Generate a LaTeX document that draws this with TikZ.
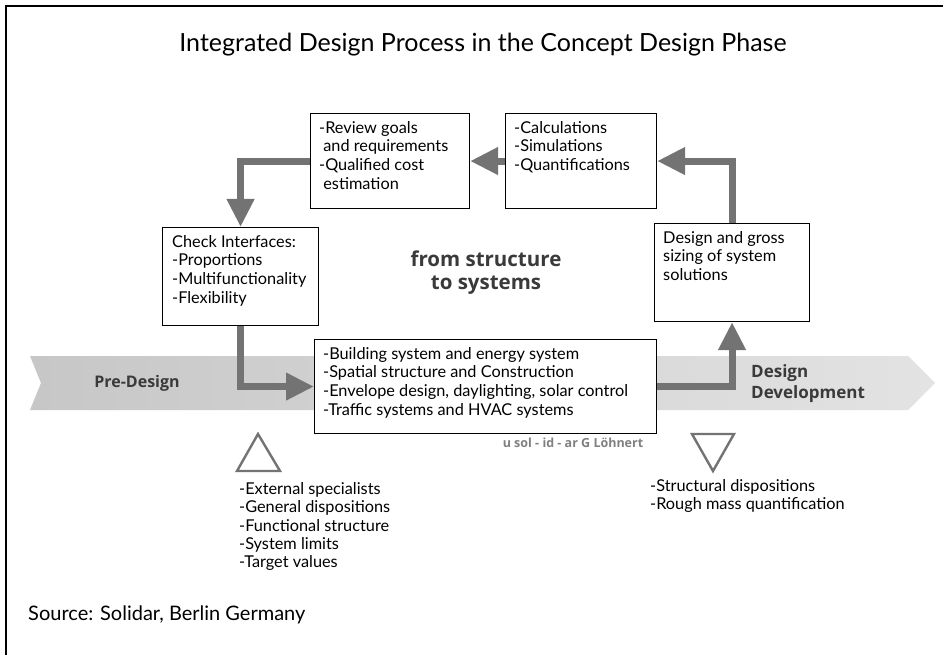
\documentclass[tikz,border=0pt]{standalone}
\usepackage{fontspec}
\setmainfont{Lato}
\newfontfamily\labfont{Open Sans}
\usetikzlibrary{arrows.meta,calc}
\definecolor{flowgray}{HTML}{737373}
\definecolor{labgray}{HTML}{3A3A3A}
\tikzset{
  box/.style={draw=black, line width=1.1pt, fill=white, rectangle, inner sep=0pt, anchor=north west},
  boxtext/.style={anchor=north west, inner sep=0pt, align=left, font=\fontsize{16.3}{18.6}\selectfont},
  flow/.style={draw=flowgray, line width=7pt, -{Triangle[length=28pt,width=26pt]}},
  tri/.style={draw=black!55, line width=2.4pt, line join=miter},
  listtext/.style={anchor=north west, inner sep=0pt, align=left, font=\fontsize{16.3}{18.4}\selectfont},
  bandlabel/.style={font=\labfont\bfseries\fontsize{16}{19}\selectfont, text=labgray, inner sep=0pt}
}
\begin{document}
\begin{tikzpicture}[x=1pt,y=-1pt]
\useasboundingbox (0,0) rectangle (943,655);
\fill[white] (0,0) rectangle (943,655);
% frame
\draw[line width=1.4pt] (6,660) -- (6,6) -- (950,6);
% title
\node[font=\fontsize{25}{28}\selectfont, inner sep=0pt] (title) at (483,45) {Integrated Design Process in the Concept Design Phase};
% band
\shade[left color=black!22, right color=black!11] (30,356) -- (908,356) -- (935,383) -- (908,410) -- (30,410) -- (41,383) -- cycle;
\node[bandlabel] (pre) at (137,383) {Pre-Design};
\node[bandlabel, anchor=west, align=left, font=\labfont\bfseries\fontsize{17}{21}\selectfont] (dev) at (751,384) {Design\\Development};
% boxes
\node[box, minimum width=159pt, minimum height=95pt] (rev) at (310,113) {};
\node[box, minimum width=151pt, minimum height=95pt] (calc) at (505,113) {};
\node[box, minimum width=156pt, minimum height=98pt] (chk) at (162,227) {};
\node[box, minimum width=155pt, minimum height=98pt] (des) at (654,223) {};
\node[box, minimum width=342pt, minimum height=94pt] (bot) at (314,339) {};
% box texts
\node[boxtext] (revt) at ($(rev.north west)+(9,8)$) {-Review goals\\\ and requirements\\-Qualified cost\\\ estimation};
\node[boxtext] (calct) at ($(calc.north west)+(9,8)$) {-Calculations\\-Simulations\\-Quantifications};
\node[boxtext] (chkt) at ($(chk.north west)+(10,8)$) {Check Interfaces:\\-Proportions\\-Multifunctionality\\-Flexibility};
\node[boxtext] (dest) at ($(des.north west)+(9,8)$) {Design and gross\\sizing of system\\solutions};
\node[boxtext] (bott) at ($(bot.north west)+(9,8)$) {-Building system and energy system\\-Spatial structure and Construction\\-Envelope design, daylighting, solar control\\-Traffic systems and HVAC systems};
% centre label
\node[font=\labfont\bfseries\fontsize{20.5}{23}\selectfont, text=labgray, align=center, inner sep=0pt] (fs) at (486,273) {from structure\\to systems};
% connectors
\draw[flow] (calc.west) -- (rev.east);
\draw[flow] (des.north) |- (calc.east);
\draw[flow] (rev.west) -| (chk.north);
\draw[flow] (chk.south) |- (bot.west);
\draw[flow] (bot.east) -| (des.south);
% credit
\node[font=\labfont\bfseries\fontsize{12.5}{14}\selectfont, text=black!50, inner sep=0pt] (cred) at (573,443) {u sol - id - ar G Löhnert};
% triangles
\draw[tri] (258,434) -- (280,471) -- (237,471) -- cycle;
\draw[tri] (692,434) -- (734,434) -- (713,471) -- cycle;
% lists
\node[listtext] (l1) at (239,482) {-External specialists\\-General dispositions\\-Functional structure\\-System limits\\-Target values};
\node[listtext] (l2) at (650,479) {-Structural dispositions\\-Rough mass quantification};
% source
\node[font=\fontsize{20}{24}\selectfont, anchor=west, inner sep=0pt] (src) at (28,615) {Source: Solidar, Berlin Germany};
\end{tikzpicture}
\end{document}
